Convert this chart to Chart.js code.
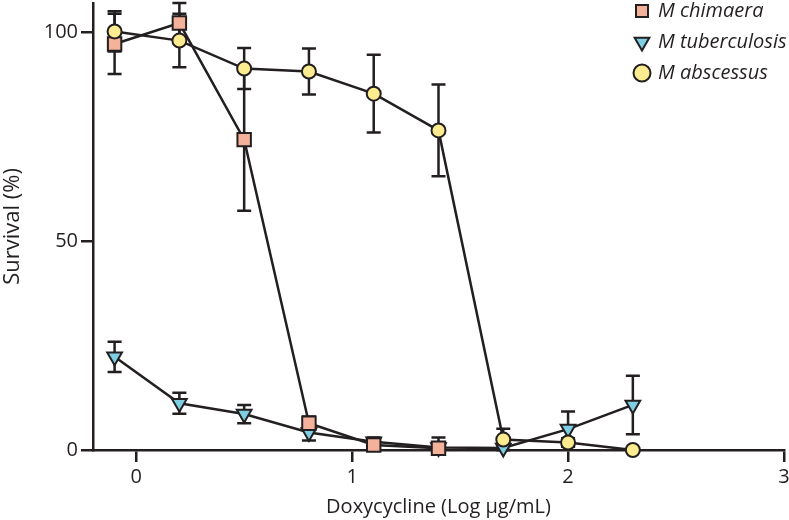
<!DOCTYPE html>
<html>
<head>
<meta charset="utf-8">
<script src="https://cdn.jsdelivr.net/npm/chart.js@4/dist/chart.umd.min.js"></script>
<style>
  html, body { margin: 0; padding: 0; background: #fff; }
  #wrap { width: 789px; height: 520px; }
</style>
</head>
<body>
<div id="wrap"><canvas id="survivalChart"></canvas></div>
<script>
// Doxycycline dose response, log ug/mL
const doses = [-0.1, 0.2, 0.5, 0.8, 1.1, 1.4, 1.7, 2.0, 2.3];
const seriesNames = ['M chimaera', 'M tuberculosis', 'M abscessus'];

const chimaera = [97.2, 102.2, 74.3, 6.4, 1.2, 0.4];
const chimaeraErr = [7.2, 4.8, 17, 1.6, 1.2, 2.6];

const tuberculosis = [22.3, 11.2, 8.6, 4.2, 2.0, 0.6, 0.5, 5.0, 10.8];
const tuberculosisErr = [3.6, 2.5, 2.2, 1.9, 1.0, 0.5, 0.5, 4.2, 7.0];

const abscessus = [100.2, 98.0, 91.3, 90.6, 85.3, 76.5, 2.5, 1.8, 0.0];
const abscessusErr = [4.8, 6.4, 4.9, 5.5, 9.3, 11, 2.6, 1.0, 0];

const xTicks = [0, 1, 2, 3];
const yTicks = [0, 50, 100];

const ink = '#231f20';
const font = '"Open Sans", "DejaVu Sans", sans-serif';

function toPoints(vals) {
    return vals.map((v, i) => ({ x: doses[i], y: v }));
}

// whiskers go under the markers, like the original
const errorBars = {
    id: 'errorBars',
    beforeDatasetsDraw(chart) {
        const ctx = chart.ctx;
        const yScale = chart.scales.y;
        ctx.save();
        ctx.strokeStyle = ink;
        ctx.lineWidth = 2.5;
        chart.data.datasets.forEach((ds, i) => {
            const meta = chart.getDatasetMeta(i);
            meta.data.forEach((pt, j) => {
                const e = ds.errors[j];
                if (!e) return;
                const v = ds.data[j].y;
                const yTop = yScale.getPixelForValue(v + e);
                const yBot = yScale.getPixelForValue(Math.max(0, v - e));
                ctx.beginPath();
                ctx.moveTo(pt.x, yTop); ctx.lineTo(pt.x, yBot);
                ctx.moveTo(pt.x - 7, yTop); ctx.lineTo(pt.x + 7, yTop);
                ctx.moveTo(pt.x - 7, yBot); ctx.lineTo(pt.x + 7, yBot);
                ctx.stroke();
            });
        });
        ctx.restore();
    }
};

// park the legend in the top right corner over the plot
const legendCorner = {
    id: 'legendCorner',
    beforeDraw(chart) {
        const lg = chart.legend;
        if (!lg) return;
        const w = lg.width, h = lg.height;
        lg.left = chart.chartArea.right - 159;
        lg.right = lg.left + w;
        lg.top = -10;
        lg.bottom = lg.top + h;
    }
};

function lineSet(label, vals, errs, style, color, radius, order) {
    return {
        label: label,
        data: toPoints(vals),
        errors: errs,
        borderColor: ink,
        borderWidth: 2.5,
        pointStyle: style,
        pointRadius: radius,
        pointBackgroundColor: color,
        pointBorderColor: ink,
        pointBorderWidth: 2,
        pointRotation: style === 'triangle' ? 180 : 0,
        tension: 0,
        fill: false,
        clip: false,
        order: order
    };
}

new Chart(document.getElementById('survivalChart'), {
    type: 'line',
    data: {
        datasets: [
            lineSet(seriesNames[0], chimaera, chimaeraErr, 'rect', '#f5b29b', 9.5, 1),
            lineSet(seriesNames[1], tuberculosis, tuberculosisErr, 'triangle', '#7ecfe3', 8.5, 2),
            lineSet(seriesNames[2], abscessus, abscessusErr, 'circle', '#fcec8f', 7, 0)
        ]
    },
    options: {
        responsive: true,
        maintainAspectRatio: false,
        animation: false,
        layout: { autoPadding: false, padding: { top: 3, right: 5, left: 0, bottom: 0 } },
        plugins: {
            tooltip: { enabled: false },
            legend: {
                position: 'chartArea',
                fullSize: false,
                align: 'start',
                labels: {
                    usePointStyle: true,
                    boxWidth: 12,
                    boxHeight: 12,
                    padding: 11,
                    color: ink,
                    font: { family: font, size: 20, style: 'italic' },
                    sort: (a, b) => a.datasetIndex - b.datasetIndex
                }
            }
        },
        scales: {
            x: {
                type: 'linear',
                min: -0.2,
                max: 3,
                afterBuildTicks: s => { s.ticks = xTicks.map(v => ({ value: v })); },
                afterFit: s => { s.height = 70; s.paddingLeft = 0; s.paddingRight = 0; },
                ticks: { color: ink, padding: 3, font: { family: font, size: 20 } },
                grid: { drawOnChartArea: false, tickLength: 12, color: ink, lineWidth: 2.5 },
                border: { color: ink, width: 2.5 },
                title: {
                    display: true,
                    text: 'Doxycycline (Log µg/mL)',
                    color: ink,
                    font: { family: font, size: 20 },
                    padding: { top: 0, bottom: 1 }
                }
            },
            y: {
                min: 0,
                max: 107,
                afterBuildTicks: s => { s.ticks = yTicks.map(v => ({ value: v })); },
                afterFit: s => { s.width = 93; s.paddingTop = 0; s.paddingBottom = 0; },
                ticks: { color: ink, padding: 3, font: { family: font, size: 20 } },
                grid: { drawOnChartArea: false, tickLength: 12, color: ink, lineWidth: 2.5 },
                border: { color: ink, width: 2.5 },
                title: {
                    display: true,
                    text: 'Survival (%)',
                    color: ink,
                    font: { family: font, size: 22 },
                    padding: { top: 0, bottom: 0 }
                }
            }
        }
    },
    plugins: [errorBars, legendCorner]
});
</script>
</body>
</html>
